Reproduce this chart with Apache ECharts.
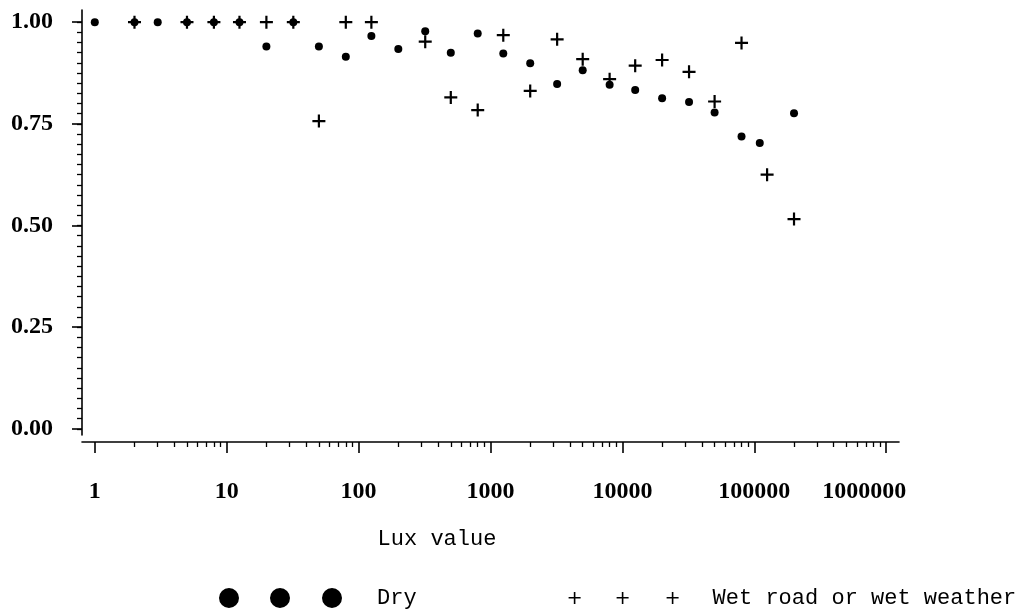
<!DOCTYPE html>
<html>
<head>
<meta charset="utf-8">
<title>Lux value</title>
<script src="https://cdn.jsdelivr.net/npm/echarts@6.0.0/dist/echarts.min.js"></script>
<style>
  html, body { margin: 0; padding: 0; background: #fff; }
  #chart { width: 1034px; height: 615px; }
</style>
</head>
<body>
<div id="chart"></div>
<script>
// valores
var luxDry = [1, 2, 3, 5, 8, 12.5, 20, 32, 50, 80, 125, 200, 320, 500, 800, 1250, 2000, 3200, 5000, 8000, 12500, 20000, 32000, 50000, 80000, 110000, 200000];
var dryValues = [1.00, 1.00, 1.00, 1.00, 1.00, 1.00, 0.94, 1.00, 0.94, 0.915, 0.966, 0.934, 0.978, 0.925, 0.972, 0.923, 0.899, 0.848, 0.882, 0.846, 0.833, 0.813, 0.804, 0.778, 0.719, 0.703, 0.776];
var luxWet = [2, 5, 8, 12.5, 20, 32, 50, 80, 125, 320, 500, 800, 1250, 2000, 3200, 5000, 8000, 12500, 20000, 32000, 50000, 80000, 125000, 200000];
var wetValues = [1.00, 1.00, 1.00, 1.00, 1.00, 1.00, 0.757, 1.00, 1.00, 0.952, 0.815, 0.784, 0.968, 0.831, 0.958, 0.909, 0.860, 0.893, 0.907, 0.878, 0.805, 0.949, 0.625, 0.516];

var xTicks = [1, 10, 100, 1000, 10000, 100000, 1000000];
var yTicks = [0, 0.25, 0.5, 0.75, 1];
var seriesNames = ['Dry', 'Wet road or wet weather'];

// marcas menores: 2..9 por decada no eixo x, passo 0.025 no eixo y
var xMinor = [];
for (var d = 1; d < 1000000; d *= 10) {
  for (var m = 2; m <= 9; m++) xMinor.push(m * d);
}
var yMinor = [];
for (var k = 0; k <= 40; k++) yMinor.push(k / 40);

var PLUS = 'path://M0,5.4h13v2.2h-13zM5.4,0h2.2v13h-2.2z';
// icones da legenda: tres simbolos lado a lado (estilo SAS)
var LEGEND_DOTS = 'path://M0,10a10,10 0 1,0 20,0a10,10 0 1,0 -20,0z' +
  'M51,10a10,10 0 1,0 20,0a10,10 0 1,0 -20,0z' +
  'M103,10a10,10 0 1,0 20,0a10,10 0 1,0 -20,0zM153,10';
var LEGEND_PLUS = 'path://M0,0M14,9h12v1.6h-12zM19.2,4h1.6v12h-1.6z' +
  'M62,9h12v1.6h-12zM67.2,4h1.6v12h-1.6z' +
  'M112,9h12v1.6h-12zM117.2,4h1.6v12h-1.6zM153,20';

var serifBold = { color: '#000', fontFamily: 'Liberation Serif', fontWeight: 'bold', fontSize: 24 };
var mono = { color: '#000', fontFamily: 'Liberation Mono', fontSize: 22 };

function pairs(xs, ys) {
  return xs.map(function (x, i) { return [x, ys[i]]; });
}

var option = {
  backgroundColor: '#fff',
  animation: false,
  grid: { left: 82, right: 135, top: 10, bottom: 180 },
  legend: {
    left: 214,
    top: 582,
    width: 830,
    itemWidth: 153,
    itemHeight: 20,
    itemGap: 138,
    textStyle: mono,
    data: [
      { name: seriesNames[0], icon: LEGEND_DOTS },
      { name: seriesNames[1], icon: LEGEND_PLUS }
    ]
  },
  xAxis: [{
    type: 'log',
    min: 0.8,
    max: 1250000,
    offset: 7,
    position: 'bottom',
    name: 'Lux value',
    nameLocation: 'middle',
    nameGap: 86,
    nameTextStyle: Object.assign({ padding: [0, 107, 0, 0] }, mono),
    axisLine: { onZero: false, lineStyle: { color: '#000', width: 1.6 } },
    axisTick: { customValues: xTicks, length: 11, lineStyle: { color: '#000', width: 1.6 } },
    axisLabel: {
      customValues: xTicks,
      margin: 38,
      formatter: function (v) {
        var s = String(Math.round(v));
        return v >= 1000000 ? '{last|' + s + '}' : s;
      },
      color: serifBold.color,
      fontFamily: serifBold.fontFamily,
      fontWeight: serifBold.fontWeight,
      fontSize: serifBold.fontSize,
      rich: { last: { fontFamily: serifBold.fontFamily, fontWeight: 'bold', fontSize: 24, color: '#000', padding: [0, 44, 0, 0] } }
    },
    splitLine: { show: false }
  }, {
    type: 'log',
    min: 0.8,
    max: 1250000,
    offset: 7,
    position: 'bottom',
    axisLine: { show: false, onZero: false },
    axisTick: { customValues: xMinor, length: 5, lineStyle: { color: '#000', width: 1.3 } },
    axisLabel: { show: false },
    splitLine: { show: false }
  }],
  yAxis: [{
    type: 'value',
    min: -0.015,
    max: 1.03,
    position: 'left',
    axisLine: { show: true, onZero: false, lineStyle: { color: '#000', width: 1.6 } },
    axisTick: { show: true, customValues: yTicks, length: 10, lineStyle: { color: '#000', width: 1.6 } },
    axisLabel: {
      customValues: yTicks,
      margin: 29,
      formatter: function (v) { return v.toFixed(2); },
      color: serifBold.color,
      fontFamily: serifBold.fontFamily,
      fontWeight: serifBold.fontWeight,
      fontSize: serifBold.fontSize
    },
    splitLine: { show: false }
  }, {
    type: 'value',
    min: -0.015,
    max: 1.03,
    position: 'left',
    axisLine: { show: false, onZero: false },
    axisTick: { show: true, customValues: yMinor, length: 5, lineStyle: { color: '#000', width: 1.3 } },
    axisLabel: { show: false },
    splitLine: { show: false }
  }],
  series: [{
    name: seriesNames[0],
    type: 'scatter',
    symbol: 'circle',
    symbolSize: 8,
    itemStyle: { color: '#000', opacity: 1 },
    data: pairs(luxDry, dryValues)
  }, {
    name: seriesNames[1],
    type: 'scatter',
    symbol: PLUS,
    symbolSize: 13,
    itemStyle: { color: '#000', opacity: 1 },
    data: pairs(luxWet, wetValues)
  }]
};

var chart = echarts.init(document.getElementById('chart'), null, { renderer: 'canvas' });
chart.setOption(option);
</script>
</body>
</html>
